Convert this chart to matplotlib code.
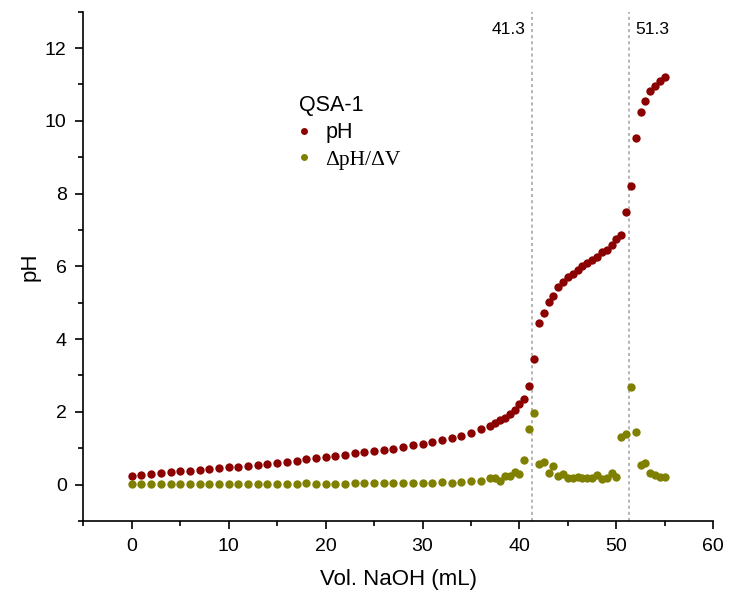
import matplotlib
matplotlib.use("Agg")
import matplotlib.pyplot as plt
from matplotlib.ticker import MultipleLocator
from matplotlib.lines import Line2D

# Titrant volume (mL)
vol = list(range(0, 38)) + [37.5 + 0.5 * i for i in range(36)]

ph = [0.24, 0.27, 0.28, 0.32, 0.34, 0.37, 0.38, 0.40, 0.42, 0.45,
      0.48, 0.49, 0.51, 0.54, 0.57, 0.60, 0.63, 0.65, 0.70, 0.73,
      0.76, 0.79, 0.82, 0.86, 0.89, 0.92, 0.95, 0.99, 1.03, 1.08,
      1.12, 1.16, 1.22, 1.28, 1.35, 1.43, 1.52, 1.61,
      1.69, 1.78, 1.83, 1.94, 2.05, 2.22, 2.36, 2.70, 3.45, 4.44,
      4.72, 5.02, 5.19, 5.44, 5.56, 5.71, 5.79, 5.90, 6.01, 6.10,
      6.17, 6.26, 6.40, 6.46, 6.58, 6.74, 6.86, 7.50, 8.20, 9.52,
      10.25, 10.53, 10.82, 10.96, 11.09, 11.20]

dph_dv = [0.03, 0.03, 0.03, 0.03, 0.03, 0.03, 0.03, 0.03, 0.03, 0.03,
          0.03, 0.03, 0.03, 0.03, 0.03, 0.03, 0.03, 0.03, 0.04, 0.03,
          0.03, 0.03, 0.03, 0.04, 0.04, 0.05, 0.05, 0.05, 0.05, 0.05,
          0.05, 0.05, 0.06, 0.05, 0.08, 0.09, 0.09, 0.17,
          0.17, 0.11, 0.23, 0.23, 0.36, 0.29, 0.68, 1.53, 1.96, 0.57,
          0.63, 0.32, 0.50, 0.25, 0.29, 0.17, 0.19, 0.22, 0.18, 0.17,
          0.19, 0.26, 0.15, 0.19, 0.31, 0.22, 1.32, 1.39, 2.68, 1.44,
          0.55, 0.59, 0.31, 0.27, 0.20, 0.22]

equiv_points = [41.3, 51.3]
equiv_labels = ["41.3", "51.3"]

RED = "#8b0000"
OLIVE = "#808000"

plt.rcParams['font.family'] = ['Liberation Sans', 'DejaVu Sans']

fig = plt.figure(figsize=(7.29, 6.05), dpi=100)
ax = fig.add_axes([0.1143, 0.1388, 0.8642, 0.8420])

ax.plot(vol, ph, 'o', color=RED, ms=6, mew=0, zorder=3)
ax.plot(vol, dph_dv, 'o', color=OLIVE, ms=6, mew=0, zorder=3)

for xv in equiv_points:
    ax.axvline(xv, color="#a0a0a0", lw=1.1, ls=(0, (2, 2)), zorder=1)

ax.text(equiv_points[0] - 0.7, 12.52, equiv_labels[0], ha='right', va='center', fontsize=12.5)
ax.text(equiv_points[1] + 0.7, 12.52, equiv_labels[1], ha='left', va='center', fontsize=12.5)

ax.set_xlim(-5, 60)
ax.set_ylim(-1, 13)
ax.xaxis.set_major_locator(MultipleLocator(10))
ax.xaxis.set_minor_locator(MultipleLocator(5))
ax.yaxis.set_major_locator(MultipleLocator(2))
ax.yaxis.set_minor_locator(MultipleLocator(1))
for s in ['top', 'right']:
    ax.spines[s].set_visible(False)
for s in ['left', 'bottom']:
    ax.spines[s].set_linewidth(1.2)
ax.tick_params(which='major', direction='out', length=6, width=1.2, labelsize=14, pad=6)
ax.tick_params(which='minor', direction='out', length=3.5, width=1.2)

ax.set_xlabel("Vol. NaOH (mL)", fontsize=16, labelpad=10)
ax.set_ylabel("pH", fontsize=16, labelpad=3)

handles = [Line2D([], [], ls='', marker='o', color=RED, ms=5, mew=0),
           Line2D([], [], ls='', marker='o', color=OLIVE, ms=5, mew=0)]
leg = ax.legend(handles, ["pH", "ΔpH/ΔV"], title="QSA-1", frameon=False,
                loc='upper left', bbox_to_anchor=(0.312, 0.875), fontsize=15.5,
                title_fontsize=15.5, handletextpad=0.8, labelspacing=0.3,
                handlelength=0.4, alignment='left')
leg.get_texts()[1].set_fontfamily(['Liberation Serif', 'DejaVu Serif'])

fig.savefig("out.png", dpi=100)
